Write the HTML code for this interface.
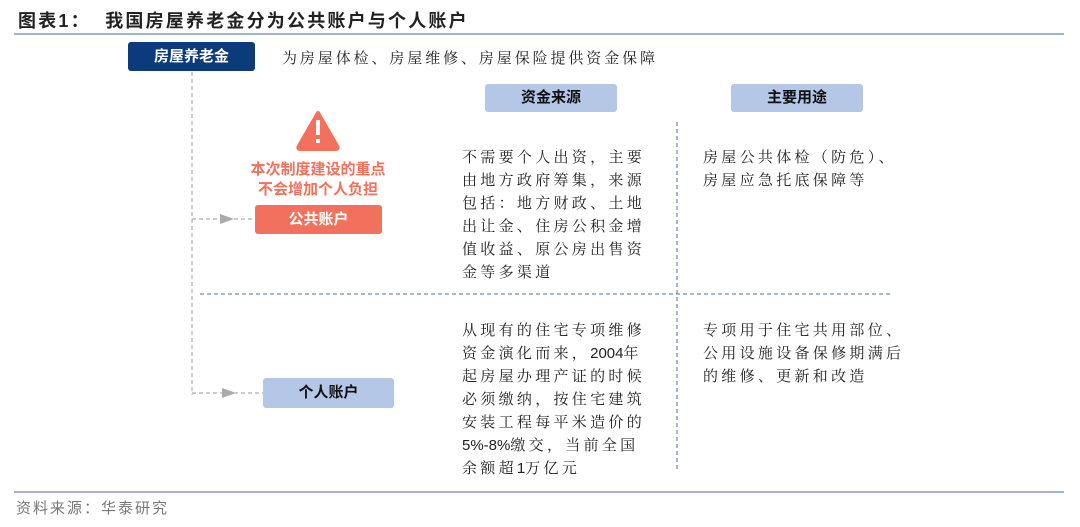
<!DOCTYPE html>
<html><head><meta charset="utf-8"><style>
body{margin:0;width:1080px;height:527px;background:#fff;position:relative;overflow:hidden;font-family:"Liberation Sans","Noto Sans CJK SC",sans-serif;color:#222}
.a{position:absolute}
.box{position:absolute;text-align:center;font-weight:bold;font-size:15px;border-radius:3px}
.t{position:absolute;font-size:15px;letter-spacing:3.3px;line-height:23px;font-family:"Liberation Sans","Noto Serif CJK SC",serif}
.n{letter-spacing:0}
</style></head><body>
<div class="a" style="left:18px;top:7px;font-size:18px;font-weight:bold;letter-spacing:2.2px">图表1：&nbsp;&nbsp;我国房屋养老金分为公共账户与个人账户</div>
<div class="a" style="left:14px;top:33px;width:1050px;height:2px;background:#9fb2cf"></div>
<div class="box" style="left:128px;top:42px;width:127px;height:29px;line-height:29px;background:#0b3b7a;color:#fff">房屋养老金</div>
<div class="t" style="left:282px;top:48px;letter-spacing:2.9px;font-family:'Liberation Serif','Noto Serif CJK SC',serif">为房屋体检、房屋维修、房屋保险提供资金保障</div>
<div class="box" style="left:485px;top:84px;width:132px;height:28px;line-height:28px;background:#b4c7e6;color:#111">资金来源</div>
<div class="box" style="left:731px;top:84px;width:132px;height:28px;line-height:28px;background:#b4c7e6;color:#111">主要用途</div>
<svg class="a" style="left:0;top:0" width="1080" height="527">
<line x1="192" y1="72" x2="192" y2="395" stroke="#999" stroke-dasharray="4,3"/>
<line x1="192" y1="219" x2="255" y2="219" stroke="#999" stroke-dasharray="4,3"/>
<polygon points="220,214 234,219 220,224" fill="#aaa"/>
<line x1="192" y1="393" x2="263" y2="393" stroke="#999" stroke-dasharray="4,3"/>
<polygon points="222,388 236,393 222,398" fill="#aaa"/>
<line x1="200" y1="294" x2="893" y2="294" stroke="#4a6fb5" stroke-dasharray="4,3"/>
<line x1="677" y1="122" x2="677" y2="470" stroke="#4a6fb5" stroke-dasharray="4,3"/>
<path d="M318,113 L337,146 Q339,149 335,149 L301,149 Q297,149 299,146 Z" fill="#f2715c" stroke="#f2715c" stroke-width="4" stroke-linejoin="round"/>
<rect x="316" y="120" width="4" height="15" fill="#fff"/><rect x="316" y="139" width="4" height="4" fill="#fff"/>
</svg>
<div class="a" style="left:228px;top:160px;width:180px;text-align:center;color:#f2715c;font-weight:bold;font-size:15px;line-height:20px">本次制度建设的重点<br>不会增加个人负担</div>
<div class="box" style="left:255px;top:205px;width:127px;height:29px;line-height:29px;background:#f2715c;color:#fff">公共账户</div>
<div class="box" style="left:263px;top:378px;width:131px;height:30px;line-height:30px;background:#b4c7e6;color:#111">个人账户</div>
<div class="t" style="left:462px;top:146px;width:200px">不需要个人出资，主要由地方政府筹集，来源包括：地方财政、土地出让金、住房公积金增值收益、原公房出售资金等多渠道</div>
<div class="t" style="left:703px;top:146px;width:220px">房屋公共体检（防危）、<br>房屋应急托底保障等</div>
<div class="t" style="left:462px;top:319px;width:210px">从现有的住宅专项维修<br>资金演化而来，<span class="n">2004</span>年<br>起房屋办理产证的时候<br>必须缴纳，按住宅建筑<br>安装工程每平米造价的<br><span class="n">5%-8%</span>缴交，当前全国<br>余额超<span class="n">1</span>万亿元</div>
<div class="t" style="left:703px;top:319px;width:220px">专项用于住宅共用部位、<br>公用设施设备保修期满后<br>的维修、更新和改造</div>
<div class="a" style="left:14px;top:491px;width:1050px;height:2px;background:#9fb2cf"></div>
<div class="a" style="left:16px;top:497px;font-size:15px;color:#777;letter-spacing:2px">资料来源：华泰研究</div>
</body></html>
